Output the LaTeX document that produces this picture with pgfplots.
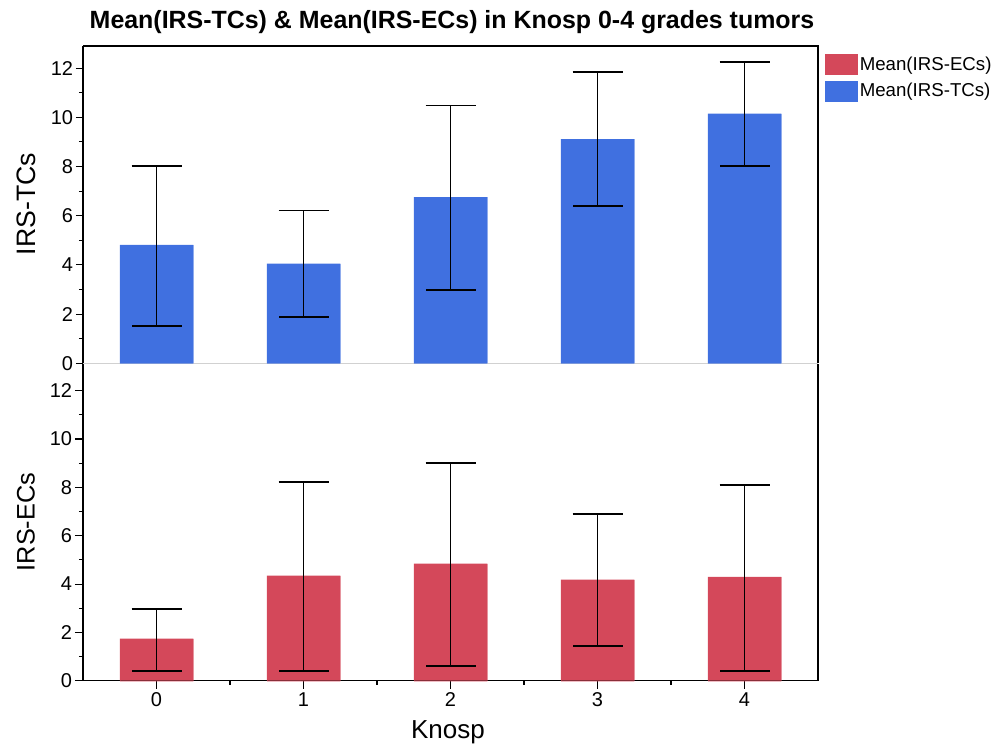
\documentclass[border=0pt]{standalone}
\usepackage{fontspec}
\setmainfont{Liberation Sans}
\usepackage{pgfplots}
\usepackage{pgfplotstable}
\pgfplotsset{compat=1.18}
\definecolor{tcblue}{RGB}{64,112,224}
\definecolor{ecred}{RGB}{212,72,90}

\pgfplotstableread{
x y ep em
0 4.81 3.22 3.29
1 4.05 2.16 2.18
2 6.75 3.73 3.77
3 9.11 2.73 2.71
4 10.15 2.10 2.12
}\tctable

\pgfplotstableread{
x y ep em
0 1.74 1.24 1.34
1 4.35 3.86 3.95
2 4.84 4.15 4.24
3 4.18 2.73 2.74
4 4.30 3.80 3.90
}\ectable

\pgfplotsset{
  every error bar/.append style={black, line width=1.4pt, solid},
  panel/.style={
    scale only axis, width=551.25pt, xmin=-0.5, xmax=4.5, ymin=0,
    ytick={0,2,...,12}, minor y tick num=1,
    tick align=outside, axis y line*=left, axis x line*=bottom,
    major tick length=5.25pt, minor tick length=3pt,
    tick style={black, line width=0.8pt},
    y axis line style={black, line width=0.9pt},
    ticklabel style={font=\fontsize{15}{15}\selectfont},
    yticklabel style={inner sep=2pt},
    /pgf/number format/assume math mode=true,
    clip=false,
  },
  bars/.style={
    ybar, bar width=0.5, fill=#1, draw=#1, line width=0.01pt,
    error bars/.cd, y dir=both, y explicit,
    error mark=|,
    error mark options={black, line width=1.4pt, mark size=18.75pt},
    error bar style={draw=black, line width=1.4pt},
  },
}

\begin{document}
\begin{tikzpicture}[x=1pt,y=1pt]
\path[use as bounding box] (0,0) rectangle (752.25,558.75);

\node[font=\bfseries\fontsize{18.7}{20}\selectfont] at (339,542) {Mean(IRS-TCs) \& Mean(IRS-ECs) in Knosp 0-4 grades tumors};

% top panel
\begin{axis}[panel, height=238pt, ymax=12.9,
  at={(62.25pt,286.3pt)}, anchor=south west,
  xtick=\empty, x axis line style={black!18, line width=0.9pt},
  legend style={at={(axis description cs:1.0095,0.975)}, anchor=north west,
    draw=none, fill=none, font=\fontsize{14}{15}\selectfont,
    row sep=4.5pt, inner sep=0pt, nodes={inner sep=1.5pt}},
  legend cell align=left,
]
\addlegendimage{legend image code/.code={\fill[ecred] (0pt,-7.5pt) rectangle (24pt,7.5pt);}}
\addlegendentry{Mean(IRS-ECs)}
\addlegendimage{legend image code/.code={\fill[tcblue] (0pt,-7.5pt) rectangle (24pt,7.5pt);}}
\addlegendentry{Mean(IRS-TCs)}
\addplot[forget plot, bars=tcblue] table[x=x, y=y, y error plus=ep, y error minus=em] {\tctable};
\draw[black, line width=0.9pt] (rel axis cs:0,1) -- (rel axis cs:1,1) -- (rel axis cs:1,0);
\end{axis}

% bottom panel
\begin{axis}[panel, height=237.5pt, ymax=13.1,
  at={(62.25pt,48.2pt)}, anchor=south west,
  xtick={0,1,2,3,4}, minor xtick={0.5,1.5,2.5,3.5},
  major tick length=6pt,
  x axis line style={black, line width=0.9pt},
  xticklabel style={inner sep=3pt},
]
\addplot[bars=ecred] table[x=x, y=y, y error plus=ep, y error minus=em] {\ectable};
\draw[black, line width=0.9pt] (rel axis cs:1,1) -- (rel axis cs:1,0);
\end{axis}

\node[rotate=90, font=\fontsize{20}{20}\selectfont] at (19.5,405.75) {IRS-TCs};
\node[rotate=90, font=\fontsize{19}{19}\selectfont] at (19.5,167.25) {IRS-ECs};
\node[font=\fontsize{19.5}{20}\selectfont] at (336,9.5) {Knosp};
\end{tikzpicture}
\end{document}
